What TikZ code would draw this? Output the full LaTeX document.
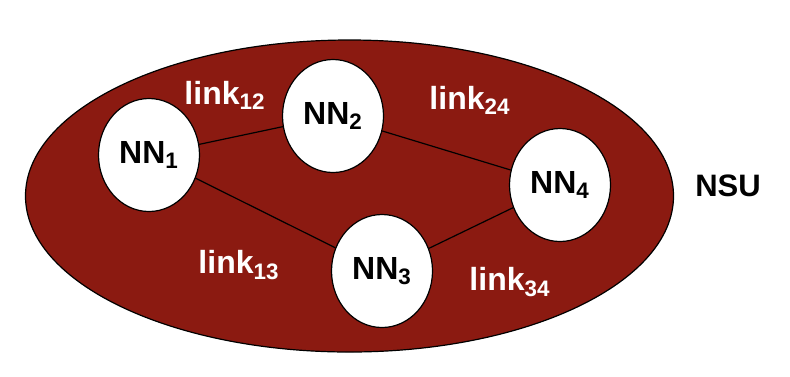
\documentclass[tikz,border=0pt]{standalone}
\usepackage{fontspec}
\setmainfont{Liberation Sans}
\usetikzlibrary{positioning,shapes.geometric}
\definecolor{NSURed}{RGB}{139,26,17}

\begin{document}
\begin{tikzpicture}[
    x=0.5pt, y=-0.5pt,
    unit/.style={
        ellipse, draw=black, line width=0.6pt, fill=NSURed,
        minimum width=324pt, minimum height=156pt
    },
    neuron/.style={
        ellipse, draw=black, line width=0.6pt, fill=white,
        minimum width=50.5pt, minimum height=56.5pt, inner sep=0pt,
        font=\fontsize{16}{18}\selectfont\bfseries
    },
    linklabel/.style={text=white, font=\fontsize{16}{18}\selectfont\bfseries},
    link/.style={draw=black, line width=0.6pt}
]
\useasboundingbox (0,0) rectangle (790,376);

\node[unit] (nsu) at (349.5,196) {};
\node[font=\fontsize{15.5}{18}\selectfont\bfseries] (nsulabel) at (728,186) {NSU};

\node[neuron] (nn1) at (149,155) {NN\textsubscript{1}};
\node[neuron] (nn2) at (333,116) {NN\textsubscript{2}};
\node[neuron] (nn3) at (382,271) {NN\textsubscript{3}};
\node[neuron] (nn4) at (560,185) {NN\textsubscript{4}};

\draw[link] (nn1) -- (nn2);
\draw[link] (nn2) -- (nn4);
\draw[link] (nn1) -- (nn3);
\draw[link] (nn3) -- (nn4);

\node[linklabel] (l12) at (225,95) {link\textsubscript{12}};
\node[linklabel] (l24) at (470,100) {link\textsubscript{24}};
\node[linklabel] (l13) at (239,265) {link\textsubscript{13}};
\node[linklabel] (l34) at (510,282) {link\textsubscript{34}};

\end{tikzpicture}
\end{document}
